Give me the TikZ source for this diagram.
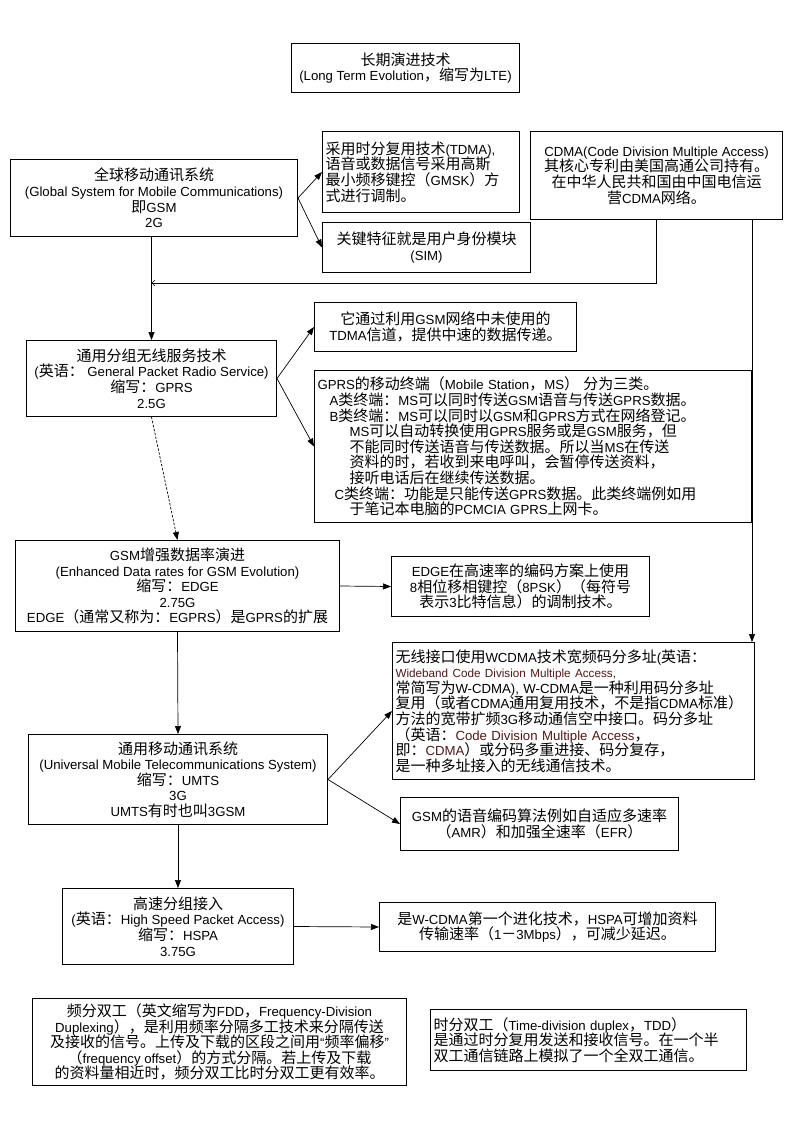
\documentclass[tikz,border=0pt]{standalone}
\usepackage{fontspec}
\usetikzlibrary{arrows.meta,calc}
\setmainfont{Liberation Sans}[Scale=0.88]
\newfontfamily\cjkfont{Noto Sans CJK SC}
\newfontfamily\latfont{Liberation Sans}[Scale=0.88]
\makeatletter
\def\setcjkcls#1#2{\count@=#1\relax\loop\XeTeXcharclass\count@=77\relax\ifnum\count@<#2\relax\advance\count@\@ne\repeat}
\setcjkcls{"3000}{"303F}
\setcjkcls{"4E00}{"9FFF}
\setcjkcls{"FF00}{"FFEF}
\makeatother
\XeTeXcharclass"201C=0
\XeTeXcharclass"201D=0
\XeTeXinterchartokenstate=1
\XeTeXinterchartoks 0 77 = {\cjkfont}
\XeTeXinterchartoks 4095 77 = {\cjkfont}
\XeTeXinterchartoks 77 0 = {\latfont}
\XeTeXinterchartoks 77 4095 = {\latfont}
\definecolor{wine}{RGB}{80,25,25}
\newcommand\wn[1]{{\color{wine}#1}}
\tikzset{
  box/.style={draw, line width=1pt, inner sep=3pt, anchor=north west, align=center,
    font=\fontsize{15}{15.6}\selectfont},
  lbox/.style={box, align=left},
  arr/.style={line width=0.7pt, -{Triangle[length=8pt,width=6pt]}},
  sarr/.style={line width=0.7pt, -{Straight Barb[length=3pt,width=6pt]}},
}
\begin{document}
\begin{tikzpicture}[x=1pt,y=-1pt]
\fill[white] (0,0) rectangle (794,1123);
\useasboundingbox (0,0) rectangle (794,1123);

\node[box, minimum width=228pt, minimum height=49pt] (lte) at (291,43)
  {长期演进技术\\(Long Term Evolution，缩写为LTE)};

\node[box, minimum width=287pt, minimum height=77pt] (gsm) at (10,159)
  {全球移动通讯系统\\(Global System for Mobile Communications)\\即GSM\\2G};

\node[lbox, minimum width=197pt, minimum height=81pt, text width=191pt] (tdma) at (322,131)
  {采用时分复用技术(TDMA),\\语音或数据信号采用高斯\\最小频移键控（GMSK）方\\式进行调制。};

\node[box, minimum width=208pt, minimum height=50pt] (sim) at (322,222)
  {关键特征就是用户身份模块\\(SIM)};

\node[box, minimum width=252pt, minimum height=88pt] (cdma) at (530,131)
  {CDMA(Code Division Multiple Access)\\其核心专利由美国高通公司持有。\\在中华人民共和国由中国电信运\\营CDMA网络。};

\node[box, minimum width=250pt, minimum height=76pt] (gprs) at (26,340)
  {通用分组无线服务技术\\(英语： General Packet Radio Service)\\缩写：GPRS\\2.5G};

\node[box, minimum width=262pt, minimum height=49pt] (g1) at (314,302)
  {它通过利用GSM网络中未使用的\\TDMA信道，提供中速的数据传递。};

\node[lbox, minimum width=437pt, minimum height=152pt, text width=431pt] (g2) at (314,370)
  {GPRS的移动终端（Mobile Station，MS） 分为三类。\\
   \hspace*{12pt}A类终端：MS可以同时传送GSM语音与传送GPRS数据。\\
   \hspace*{12pt}B类终端：MS可以同时以GSM和GPRS方式在网络登记。\\
   \hspace*{32pt}MS可以自动转换使用GPRS服务或是GSM服务，但\\
   \hspace*{32pt}不能同时传送语音与传送数据。所以当MS在传送\\
   \hspace*{32pt}资料的时，若收到来电呼叫，会暂停传送资料，\\
   \hspace*{32pt}接听电话后在继续传送数据。\\
   \hspace*{17pt}C类终端：功能是只能传送GPRS数据。此类终端例如用\\
   \hspace*{32pt}于笔记本电脑的PCMCIA GPRS上网卡。};

\node[box, minimum width=324pt, minimum height=91pt] (edge) at (15,540)
  {GSM增强数据率演进\\(Enhanced Data rates for GSM Evolution)\\缩写：EDGE\\2.75G\\EDGE（通常又称为：EGPRS）是GPRS的扩展};

\node[box, minimum width=258pt, minimum height=60pt] (edge2) at (391,556)
  {EDGE在高速率的编码方案上使用\\8相位移相键控（8PSK）（每符号\\表示3比特信息）的调制技术。};

\node[lbox, minimum width=362pt, minimum height=137pt, text width=356pt] (wcdma) at (392,642)
  {无线接口使用WCDMA技术宽频码分多址(英语：\\
   {\fontsize{13.3}{15.6}\selectfont\wn{Wideband Code Division Multiple Access,}}\\
   常简写为W-CDMA), W-CDMA是一种利用码分多址\\
   复用（或者CDMA通用复用技术，不是指CDMA标准）\\
   方法的宽带扩频3G移动通信空中接口。码分多址\\
   （英语：\wn{Code Division Multiple Access}，\\
   即：\wn{CDMA}）或分码多重进接、码分复存，\\
   是一种多址接入的无线通信技术。};

\node[box, minimum width=299pt, minimum height=90pt] (umts) at (28,734)
  {通用移动通讯系统\\(Universal Mobile Telecommunications System)\\缩写：UMTS\\3G\\UMTS有时也叫3GSM};

\node[box, minimum width=278pt, minimum height=53pt] (amr) at (400,797)
  {GSM的语音编码算法例如自适应多速率\\（AMR）和加强全速率（EFR）};

\node[box, minimum width=231pt, minimum height=76pt] (hspa) at (62,888)
  {高速分组接入\\(英语：High Speed Packet Access)\\缩写：HSPA\\3.75G};

\node[box, minimum width=336pt, minimum height=49pt] (hspa2) at (379,902)
  {是W-CDMA第一个进化技术，HSPA可增加资料\\传输速率（1－3Mbps），可减少延迟。};

\node[box, minimum width=374pt, minimum height=87pt] (fdd) at (32,998)
  {频分双工（英文缩写为FDD，Frequency-Division\\Duplexing），是利用频率分隔多工技术来分隔传送\\及接收的信号。上传及下载的区段之间用“频率偏移”\\（frequency offset）的方式分隔。若上传及下载\\的资料量相近时，频分双工比时分双工更有效率。};

\node[lbox, minimum width=316pt, minimum height=61pt, text width=310pt] (tdd) at (430,1009)
  {时分双工（Time-division duplex，TDD）\\是通过时分复用发送和接收信号。在一个半\\双工通信链路上模拟了一个全双工通信。};

% connectors
\draw[arr] (gsm.east) -- (tdma.west);
\draw[arr] (gsm.east) -- (sim.west);
\coordinate (join) at (gsm.south |- 0,283);
\draw[arr] (gsm.south -| gprs.north) -- (gprs.north);
\draw[sarr] (cdma.south) |- (join -| gprs.north);
\draw[arr] ($(cdma.south east)+(-31,0)$) -- ($(wcdma.north east)+(-3,0)$);
\draw[arr] (gprs.east) -- (g1.west);
\draw[arr] (gprs.east) -- (g2.west);
\draw[arr, dash pattern=on 2.5pt off 1.5pt] (gprs.south) -- (edge.north);
\draw[arr] (edge.east) -- (edge2.west);
\draw[arr] (edge.south) -- (umts.north);
\draw[arr] (umts.east) -- (wcdma.west);
\draw[arr] (umts.east) -- (amr.west);
\draw[arr] (umts.south) -- (hspa.north);
\draw[arr] (hspa.east) -- (hspa2.west);
\end{tikzpicture}
\end{document}
